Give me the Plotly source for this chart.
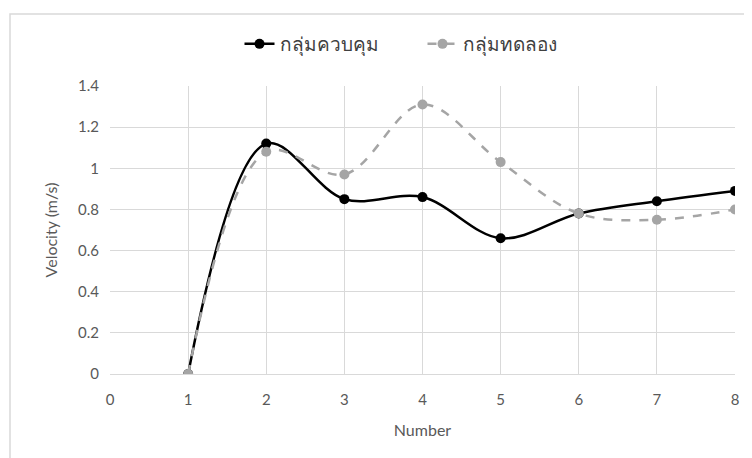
import plotly.graph_objects as go

numbers = [1, 2, 3, 4, 5, 6, 7, 8]
control = [0.0, 1.12, 0.85, 0.86, 0.66, 0.78, 0.84, 0.89]
experiment = [0.0, 1.08, 0.97, 1.31, 1.03, 0.78, 0.75, 0.80]
name_control = "กลุ่มควบคุม"
name_experiment = "กลุ่มทดลอง"
x_ticks = [0, 1, 2, 3, 4, 5, 6, 7, 8]
y_ticks = [0, 0.2, 0.4, 0.6, 0.8, 1, 1.2, 1.4]
y_tick_text = ["0", "0.2", "0.4", "0.6", "0.8", "1", "1.2", "1.4"]

FONT = "Lato, Noto Sans, sans-serif"
OFF = 8  # page body margin
W, H = 752 - OFF, 458 - OFF
L, R, T, B = 110 - OFF, 17, 86 - OFF, 84
pw, ph = W - L - R, H - T - B

fig = go.Figure()
fig.add_trace(go.Scatter(
    x=numbers, y=control, name=name_control, mode="lines+markers",
    line=dict(color="#000000", width=2.5, shape="spline", smoothing=1.0),
    marker=dict(color="#000000", size=10),
))
fig.add_trace(go.Scatter(
    x=numbers, y=experiment, name=name_experiment, mode="lines+markers",
    line=dict(color="#a5a5a5", width=2.5, dash="dash", shape="spline", smoothing=1.0),
    marker=dict(color="#a5a5a5", size=10),
))

fig.update_layout(
    width=W, height=H, autosize=False,
    margin=dict(l=L, r=R, t=T, b=B, autoexpand=False),
    paper_bgcolor="white", plot_bgcolor="white",
    font=dict(family=FONT, size=14, color="#595959"),
    showlegend=True,
    legend=dict(orientation="h", x=0.5, xanchor="center", y=1 + (T - (44 - OFF)) / ph, yanchor="middle",
                font=dict(size=19, color="#404040"), traceorder="normal",
                entrywidth=138, entrywidthmode="pixels"),
    xaxis=dict(range=[0, 8], tickvals=x_ticks, showgrid=True, gridcolor="#d9d9d9",
               gridwidth=1, zeroline=False, showline=True, linecolor="#d9d9d9",
               ticks="", ticklabelstandoff=12,
               title=dict(text="Number", font=dict(size=16, color="#595959"), standoff=17),
               tickfont=dict(size=15, color="#595959")),
    yaxis=dict(range=[0, 1.4], tickvals=y_ticks, ticktext=y_tick_text, showgrid=True,
               gridcolor="#d9d9d9", gridwidth=1, zeroline=False, showline=False,
               ticks="", ticklabelstandoff=10,
               title=dict(text="Velocity (m/s)", font=dict(size=16, color="#595959"), standoff=16),
               tickfont=dict(size=15, color="#595959")),
    shapes=[dict(type="rect", xref="paper", yref="paper",
                 x0=(10 - OFF - L) / pw, x1=(W + 10 - L) / pw,
                 y0=-(B + 10) / ph, y1=1 + (T - (14 - OFF)) / ph,
                 line=dict(color="#d9d9d9", width=1.5), fillcolor="rgba(0,0,0,0)", layer="below")],
)

fig.write_html("out.html")
